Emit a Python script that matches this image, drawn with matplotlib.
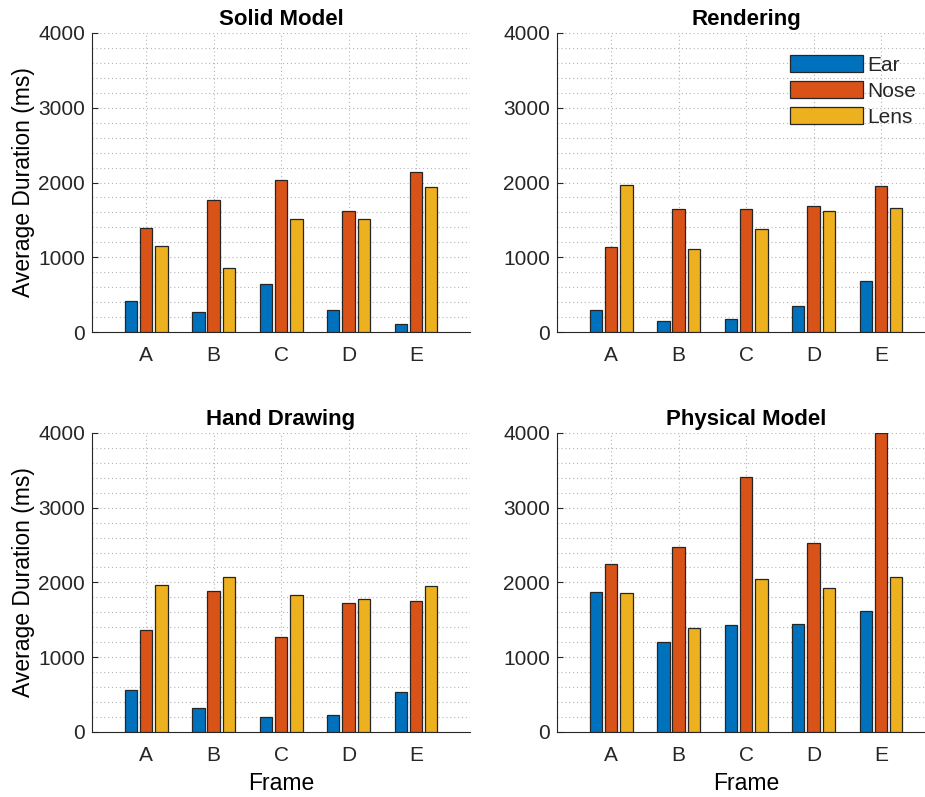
import numpy as np
import matplotlib
matplotlib.use("Agg")
from matplotlib import pyplot as plt
from matplotlib.ticker import MultipleLocator

matplotlib.rcParams.update({
    'font.family': ['Liberation Sans', 'DejaVu Sans'],
    'axes.edgecolor': '#262626',
    'xtick.color': '#262626',
    'ytick.color': '#262626',
    'text.color': '#262626',
})

frames = ['A', 'B', 'C', 'D', 'E']
series = ['Ear', 'Nose', 'Lens']
colors = ['#0072BD', '#D95319', '#EDB120']

solid_ear = [414, 267, 637, 294, 107]
solid_nose = [1390, 1764, 2040, 1617, 2143]
solid_lens = [1154, 860, 1510, 1510, 1938]

render_ear = [294, 147, 174, 343, 682]
render_nose = [1136, 1644, 1644, 1688, 1955]
render_lens = [1973, 1109, 1381, 1617, 1657]

hand_ear = [561, 325, 205, 222, 530]
hand_nose = [1361, 1891, 1272, 1731, 1749]
hand_lens = [1966, 2069, 1833, 1775, 1953]

phys_ear = [1877, 1197, 1433, 1450, 1615]
phys_nose = [2247, 2469, 3413, 2531, 4000]
phys_lens = [1864, 1397, 2047, 1922, 2069]

panels = [
    ('Solid Model', [solid_ear, solid_nose, solid_lens]),
    ('Rendering', [render_ear, render_nose, render_lens]),
    ('Hand Drawing', [hand_ear, hand_nose, hand_lens]),
    ('Physical Model', [phys_ear, phys_nose, phys_lens]),
]

# axes boxes in figure fractions (left, bottom, width, height)
positions = [
    [0.0995, 0.5834, 0.4086, 0.3752],
    [0.6022, 0.5834, 0.4086, 0.3752],
    [0.0995, 0.0816, 0.4086, 0.3752],
    [0.6022, 0.0816, 0.4086, 0.3752],
]

fig = plt.figure(figsize=(9.25, 7.97), dpi=100)
x = np.arange(1, len(frames) + 1)
offset = 0.226
width = 0.185
grid_kw = dict(linestyle=(0, (1, 2.5)), color='#b4b4b4', linewidth=0.8, zorder=0)

for i, (title, vals) in enumerate(panels):
    ax = fig.add_axes(positions[i])
    for j, v in enumerate(vals):
        ax.bar(x + (j - 1) * offset, v, width, color=colors[j], edgecolor='#262626',
               linewidth=0.9, label=series[j], zorder=3)
    ax.set_xlim(0.2, 5.8)
    ax.set_ylim(0, 4000)
    ax.set_xticks(x)
    ax.set_xticklabels(frames)
    ax.set_yticks([0, 1000, 2000, 3000, 4000])
    ax.yaxis.set_minor_locator(MultipleLocator(200))
    ax.tick_params(axis='both', which='major', direction='in', length=4, labelsize=15, width=0.8)
    ax.tick_params(axis='y', which='minor', left=False)
    ax.tick_params(axis='x', which='major', bottom=False, pad=10)
    ax.tick_params(axis='y', which='major', pad=5)
    ax.grid(True, which='major', **grid_kw)
    ax.grid(True, which='minor', axis='y', **grid_kw)
    ax.set_axisbelow(True)
    for s in ['top', 'right']:
        ax.spines[s].set_visible(False)
    ax.set_title(title, fontsize=16, fontweight='bold', color='black', pad=6)
    if i % 2 == 0:
        ax.set_ylabel('Average Duration (ms)', fontsize=16.5, labelpad=2)
    if i >= 2:
        ax.set_xlabel('Frame', fontsize=16.5, labelpad=5)
    if i == 1:
        ax.legend(loc='upper right', frameon=False, fontsize=15, handlelength=3.5,
                  handleheight=0.9, handletextpad=0.2, labelspacing=0.3,
                  bbox_to_anchor=(1.0, 0.99))

fig.savefig('out.png', dpi=100)
